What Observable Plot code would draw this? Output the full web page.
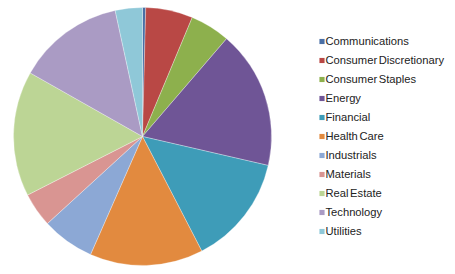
<!DOCTYPE html>
<html>
<head>
<meta charset="utf-8">
<script src="https://cdn.jsdelivr.net/npm/d3@7"></script>
<script src="https://cdn.jsdelivr.net/npm/@observablehq/plot@0.6"></script>
<style>
  html, body { margin: 0; padding: 0; background: #fff; }
  svg { display: block; }
  svg text { word-spacing: -1.5px; }
</style>
</head>
<body>
<div id="chart"></div>
<script>
const sectors = ["Communications", "Consumer Discretionary", "Consumer Staples", "Energy", "Financial", "Health Care", "Industrials", "Materials", "Real Estate", "Technology", "Utilities"];
const shares = [0.4, 5.9, 5.0, 17.3, 13.8, 14.2, 6.6, 4.3, 15.7, 13.4, 3.4];
const colors = ["#4a6fa5", "#b94845", "#8db04d", "#6f5596", "#3e9cb8", "#e28a3f", "#8ca8d5", "#d99592", "#bcd595", "#aa9bc4", "#8fc8d8"];

const data = sectors.map((s, i) => ({sector: s, share: shares[i]}));

const pieMark = (index, scales, values, dimensions) => {
  const cx = 142.5, cy = 136.5, r = 129;
  const arcs = d3.pie().sort(null).value(d => d.share)(data);
  const arc = d3.arc().innerRadius(0).outerRadius(r);
  const g = d3.create("svg:g").attr("transform", `translate(${cx},${cy})`);
  g.selectAll("path").data(arcs).join("path")
    .attr("d", arc)
    .attr("fill", d => scales.color(d.data.sector))
    .attr("stroke", "#ffffff")
    .attr("stroke-opacity", 0.5)
    .attr("stroke-width", 0.6);
  return g.node();
};

const chart = Plot.plot({
  width: 455,
  height: 274,
  margin: 0,
  style: {fontFamily: "Arial, 'Liberation Sans', sans-serif", background: "#fff"},
  color: {domain: sectors, range: colors},
  y: {type: "point", domain: sectors, range: [36.5, 235], padding: 0, axis: null},
  marks: [
    pieMark,
    Plot.dot(data, {y: "sector", fill: "sector", symbol: "square", r: 2.9, frameAnchor: "left", dx: 321.5}),
    Plot.text(data, {y: "sector", text: "sector", frameAnchor: "left", dx: 325, textAnchor: "start", fontSize: 11.2, fill: "#222"})
  ]
});
document.getElementById("chart").appendChild(chart);
</script>
</body>
</html>
